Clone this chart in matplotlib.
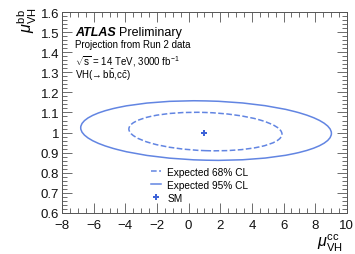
import matplotlib
matplotlib.use("Agg")
import matplotlib.pyplot as plt
from matplotlib.patches import Ellipse
from matplotlib.lines import Line2D
from matplotlib.ticker import MultipleLocator

plt.rcParams['font.family'] = ['Liberation Sans', 'DejaVu Sans']
plt.rcParams['mathtext.fontset'] = 'custom'
plt.rcParams['mathtext.rm'] = 'Liberation Sans'
plt.rcParams['mathtext.it'] = 'Liberation Sans:italic'

# contour ellipses: centre, full width, full height, tilt (deg)
cl_labels = ['Expected 68% CL', 'Expected 95% CL']
cl_centers = [(1.06, 1.005), (1.1, 1.01)]
cl_widths = [9.68, 15.85]
cl_heights = [0.19, 0.295]
cl_angles = [-0.15, -0.1]
cl_styles = ['--', '-']
sm_point = (1.0, 1.0)

col = '#6285e2'
sm_col = '#3d63d8'

fig = plt.figure(figsize=(3.55, 2.55), dpi=100)
ax = fig.add_axes([0.175, 0.161, 0.802, 0.788])

for c, w, h, a, ls in zip(cl_centers, cl_widths, cl_heights, cl_angles, cl_styles):
    e = Ellipse(c, w, h, angle=a, fill=False, edgecolor=col, lw=1.1, linestyle=ls)
    ax.add_patch(e)
ax.plot(sm_point[0], sm_point[1], marker='P', ms=5, color=sm_col, mew=0, ls='none')

ax.set_xlim(-8, 10)
ax.set_ylim(0.6, 1.6)
ax.xaxis.set_minor_locator(MultipleLocator(0.5))
ax.yaxis.set_minor_locator(MultipleLocator(0.02))
ax.tick_params(which='both', direction='in', top=True, right=True, labelsize=9.5, labelcolor='#111111', color='#555555', width=0.6)
ax.tick_params(which='major', length=7)
ax.tick_params(which='minor', length=3.5)
ax.set_xticks([-8, -6, -4, -2, 0, 2, 4, 6, 8, 10])
ax.set_xticklabels(['\u22128', '\u22126', '\u22124', '\u22122', '0', '2', '4', '6', '8', '10'])
ax.set_yticks([0.6, 0.7, 0.8, 0.9, 1.0, 1.1, 1.2, 1.3, 1.4, 1.5, 1.6])
ax.set_yticklabels(['0.6', '0.7', '0.8', '0.9', '1', '1.1', '1.2', '1.3', '1.4', '1.5', '1.6'])
ax.tick_params(axis='x', pad=4)
ax.tick_params(axis='y', pad=2)
for s in ax.spines.values():
    s.set_linewidth(0.7)
    s.set_color('#555555')

fig.text(0.93, 0.03, r'$\mu_{\mathrm{VH}}^{\mathrm{cc}}$', fontsize=11.5, ha='center')
fig.text(0.045, 0.92, r'$\mu_{\mathrm{VH}}^{\mathrm{bb}}$', fontsize=11.5, rotation=90, va='center')

ax.text(0.046, 0.9, 'ATLAS', transform=ax.transAxes, fontsize=9, fontweight='bold', style='italic', va='center')
ax.text(0.2, 0.9, 'Preliminary', transform=ax.transAxes, fontsize=9, va='center')
ax.text(0.046, 0.843, 'Projection from Run 2 data', transform=ax.transAxes, fontsize=7, va='center')
ax.text(0.046, 0.76, r'$\sqrt{\mathrm{s}}$ = 14 TeV, 3000 fb$^{\mathrm{-1}}$', transform=ax.transAxes, fontsize=7, va='center')
ax.text(0.046, 0.69, 'VH(\u2192$\\,$b$\\bar{\\mathrm{b}}$,c$\\bar{\\mathrm{c}}$)', transform=ax.transAxes, fontsize=7, va='center')

handles = [Line2D([], [], color=col, lw=1.1, ls='--'),
           Line2D([], [], color=col, lw=1.1, ls='-'),
           Line2D([], [], color=sm_col, marker='P', ms=5, mew=0, ls='none')]
ax.legend(handles, cl_labels + ['SM'], loc='upper left', bbox_to_anchor=(0.312, 0.23),
          frameon=False, fontsize=7.3, handlelength=1.0, handletextpad=0.6,
          labelspacing=0.3, borderpad=0, borderaxespad=0)

fig.savefig('out.png', dpi=100)
